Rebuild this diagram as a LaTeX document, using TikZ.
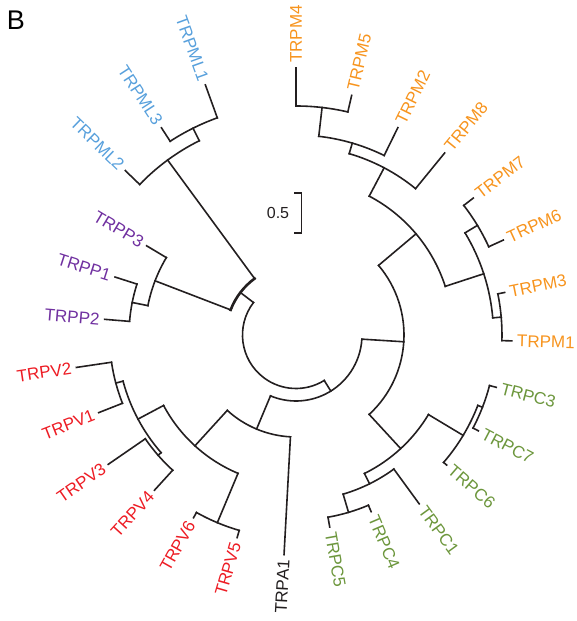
\documentclass[tikz,border=0pt]{standalone}
\usepackage{fontspec}
\setmainfont{Liberation Sans}
\usepackage{tikz}

\definecolor{treeline}{RGB}{35,31,32}
\definecolor{mlblue}{RGB}{88,160,220}
\definecolor{morange}{RGB}{247,148,30}
\definecolor{ppurple}{RGB}{112,48,160}
\definecolor{vred}{RGB}{237,28,36}
\definecolor{cgreen}{RGB}{108,150,60}

\tikzset{
  branch/.style={draw=treeline, line width=1.6pt, line cap=rect},
  leaf/.style={inner sep=5pt, font=\fontsize{17}{19}\selectfont},
}

\begin{document}
\begin{tikzpicture}[x=1pt,y=1pt]
\useasboundingbox (-296,-286) rectangle (280,335);
\node[font=\fontsize{27}{29}\selectfont] (panel) at (-280,315) {B};

\draw[branch] (142.62:53.5) arc[start angle=142.62, end angle=301.83, radius=53.5pt];
\draw[branch, line width=2.6pt] (158.97:70) arc[start angle=158.97, end angle=126.27, radius=70pt];

\foreach \nm/\ang/\rp/\rr/\sa/\ea in {
  M45/83.46/200/229/90/76.92, M245/73.65/189/200/83.46/63.84,
  M2458/62.2/157/189/73.65/50.76, M67/31.14/197.5/212/37.68/24.6,
  M13/4.98/197.5/206/11.52/-1.56, M1367/18.06/157/197.5/31.14/4.98,
  M/40.13/108/157/62.2/18.06,
  C37/-21.18/195/200/-14.64/-27.72, C367/-30.99/154.5/195/-21.18/-40.8,
  C45/-73.5/166/185/-66.96/-80.04, C145/-63.69/154.5/166/-53.88/-73.5,
  C/-47.34/108/154.5/-30.99/-63.69, MC/-3.6/66/108/40.13/-47.34,
  V56/-112.74/150/203.5/-106.2/-119.28, V12/-165.06/179/186.5/-158.52/-171.6,
  V34/-138.9/179/183/-132.36/-145.44, V1234/-151.98/150/179/-138.9/-165.06,
  V/-132.36/102/150/-112.74/-151.98, VA/-112.74/66/102/-93.12/-132.36,
  W/-58.17/53.5/66/-3.6/-112.74,
  X/116.46/217/231/123/109.92, Y/126.27/70/217/136.08/116.46,
  R/168.78/151/167/175.32/162.24, Q/158.97/70/151/168.78/149.16,
  Z/142.62/53.5/70/158.97/126.27}{
  \draw[branch] (\ang:\rp) -- (\ang:\rr) coordinate (\nm);
  \draw[branch] (\sa:\rr) arc[start angle=\sa, end angle=\ea, radius=\rr pt];
}

\foreach \nm/\ang/\rb/\rt/\col in {
  TRPM4/90/229/267/morange, TRPM5/76.92/229/246/morange,
  TRPM2/63.84/200/231/morange, TRPM8/50.76/189/235/morange,
  TRPM7/37.68/212/224/morange, TRPM6/24.6/212/228/morange,
  TRPM3/11.52/206/213/morange, TRPM1/-1.56/206/216/morange,
  TRPC3/-14.64/200/207/cgreen, TRPC7/-27.72/200/206/cgreen,
  TRPC6/-40.8/195/199/cgreen, TRPC1/-53.88/166/209/cgreen,
  TRPC4/-66.96/185/192/cgreen, TRPC5/-80.04/185/195/cgreen}{
  \draw[branch] (\ang:\rb) -- (\ang:\rt) coordinate (\nm tip);
  \node[leaf, text=\col, anchor=west, rotate=\ang] (\nm) at (\nm tip) {\nm};
}

\foreach \nm/\ang/\rb/\rt/\col in {
  TRPA1/-93.12/102/220/treeline, TRPV5/-106.2/203.5/211/vred,
  TRPV6/-119.28/203.5/209.5/vred, TRPV4/-132.36/183/210/vred,
  TRPV3/-145.44/183/228/vred, TRPV1/-158.52/186.5/212/vred,
  TRPV2/-171.6/186.5/222/vred, TRPP2/175.32/167/192/ppurple,
  TRPP1/162.24/167/190/ppurple, TRPP3/149.16/151/174/ppurple,
  TRPML2/136.08/217/237/mlblue, TRPML3/123/231/247/mlblue,
  TRPML1/109.92/231/266/mlblue}{
  \draw[branch] (\ang:\rb) -- (\ang:\rt) coordinate (\nm tip);
  \node[leaf, text=\col, anchor=east, rotate=\ang+180] (\nm) at (\nm tip) {\nm};
}

\coordinate (sbtop) at (5.7,142);
\coordinate (sbbot) at (5.7,102);
\draw[branch] (sbtop) ++(-7,0) -- (sbtop) -- (sbbot) -- ++(-7,0);
\node[font=\fontsize{16}{18}\selectfont, text=treeline] (scale) at (-18,122) {0.5};
\end{tikzpicture}
\end{document}
